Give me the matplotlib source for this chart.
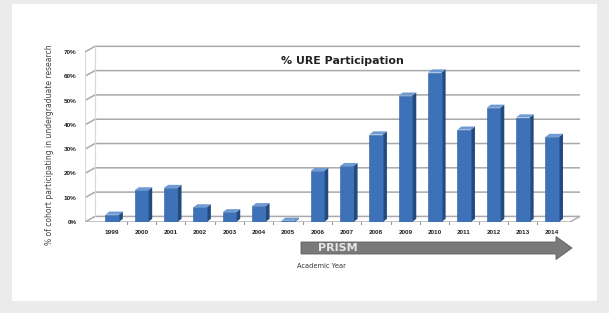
import matplotlib
matplotlib.use("Agg")
import matplotlib.pyplot as plt
from matplotlib.patches import Rectangle, Polygon, FancyArrow

years = ['1999', '2000', '2001', '2002', '2003', '2004', '2005', '2006',
         '2007', '2008', '2009', '2010', '2011', '2012', '2013', '2014']
participation = [3, 13, 14, 6, 4, 6.5, 0.5, 21, 23, 36, 52, 61.5, 38, 47, 43, 35]
y_ticks = [0, 10, 20, 30, 40, 50, 60, 70]
y_tick_labels = ['0%', '10%', '20%', '30%', '40%', '50%', '60%', '70%']

W, H = 609, 313
fig = plt.figure(figsize=(W / 100, H / 100), dpi=100, facecolor='#ebebeb')

# white panel (behind everything)
fig.patches.append(Rectangle((12 / W, 12 / H), 585 / W, 297 / H, transform=fig.transFigure,
                             facecolor='white', edgecolor='none', zorder=-10))

ax = fig.add_axes([85 / W, (H - 222) / H, (580 - 85) / W, (222 - 40) / H])
ax.set_zorder(1)
ax.set_facecolor('none')
x_left, x_right = -0.92, 15.95
ax.set_xlim(x_left, x_right)
ax.set_ylim(0, 74.9)

# perspective offsets (data units)
gdx, gdy = 0.34, 2.3
grid_col = '#a9a9a9'

# back wall gridlines with a short diagonal on the side wall
for t in y_ticks:
    ax.plot([x_left, x_left + gdx, x_right], [t, t + gdy, t + gdy],
            color=grid_col, lw=1.1, zorder=1, solid_capstyle='butt')
ax.plot([x_left, x_left], [0, y_ticks[-1]], color='#d8d8d8', lw=0.8, zorder=1)
ax.plot([x_left + gdx, x_left + gdx], [gdy, y_ticks[-1] + gdy], color='#d8d8d8', lw=0.8, zorder=1)

# floor front edge and right side
ax.plot([x_left, x_right - gdx, x_right], [0, 0, gdy], color=grid_col, lw=1.0, zorder=1)
for i in range(len(years) - 1):
    ax.plot([i + 0.5, i + 0.5], [0, -0.8], color='#999999', lw=0.8, zorder=1, clip_on=False)

# 3D-looking bars
w = 0.46
bdx, bdy = 0.14, 1.3
xs = list(range(len(years)))
ax.bar(xs, participation, width=w, color='#3d72b9', edgecolor='#2f5f9e', lw=0.4, zorder=4)
for i, v in zip(xs, participation):
    r = i + w / 2
    l = i - w / 2
    ax.add_patch(Polygon([(r, 0), (r + bdx, bdy), (r + bdx, v + bdy), (r, v)],
                         closed=True, facecolor='#234b80', edgecolor='none', zorder=3))
    ax.add_patch(Polygon([(l, v), (r, v), (r + bdx, v + bdy), (l + bdx, v + bdy)],
                         closed=True, facecolor='#6f9ad3', edgecolor='none', zorder=5))

ax.set_xticks(xs)
ax.set_xticklabels(years, fontsize=4.6, color='#222222', family='Liberation Sans',
                   fontweight='bold')
ax.set_yticks(y_ticks)
ax.set_yticklabels(y_tick_labels, fontsize=4.6, color='#222222', family='Liberation Sans',
                   fontweight='bold')
ax.tick_params(axis='both', length=0)
ax.tick_params(axis='x', pad=6)
ax.tick_params(axis='y', pad=6)
for s in ax.spines.values():
    s.set_visible(False)

fig.text(342 / W, (H - 61) / H, '% URE Participation', ha='center', va='center',
         fontsize=7.9, fontweight='bold', color='#222222', zorder=5)
fig.text(50 / W, (H - 145) / H, '% of cohort participating in undergraduate research',
         rotation=90, ha='center', va='center', fontsize=5.5, color='#444444')

# PRISM arrow
arrow = FancyArrow(301 / W, (H - 248) / H, (572 - 301) / W, 0, width=12 / H,
                   head_width=23 / H, head_length=16 / W, length_includes_head=True,
                   transform=fig.transFigure, facecolor='#7a7a7a', edgecolor='#5e5e5e',
                   lw=0.6, zorder=2)
fig.patches.append(arrow)
fig.text(338 / W, (H - 248) / H, 'PRISM', ha='center', va='center', fontsize=8,
         color='#e6e6e6', fontweight='bold', zorder=3)
fig.text(297 / W, (H - 266) / H, 'Academic Year', ha='left', va='center',
         fontsize=4.8, color='#333333')

fig.savefig('out.png', dpi=100, facecolor=fig.get_facecolor())
